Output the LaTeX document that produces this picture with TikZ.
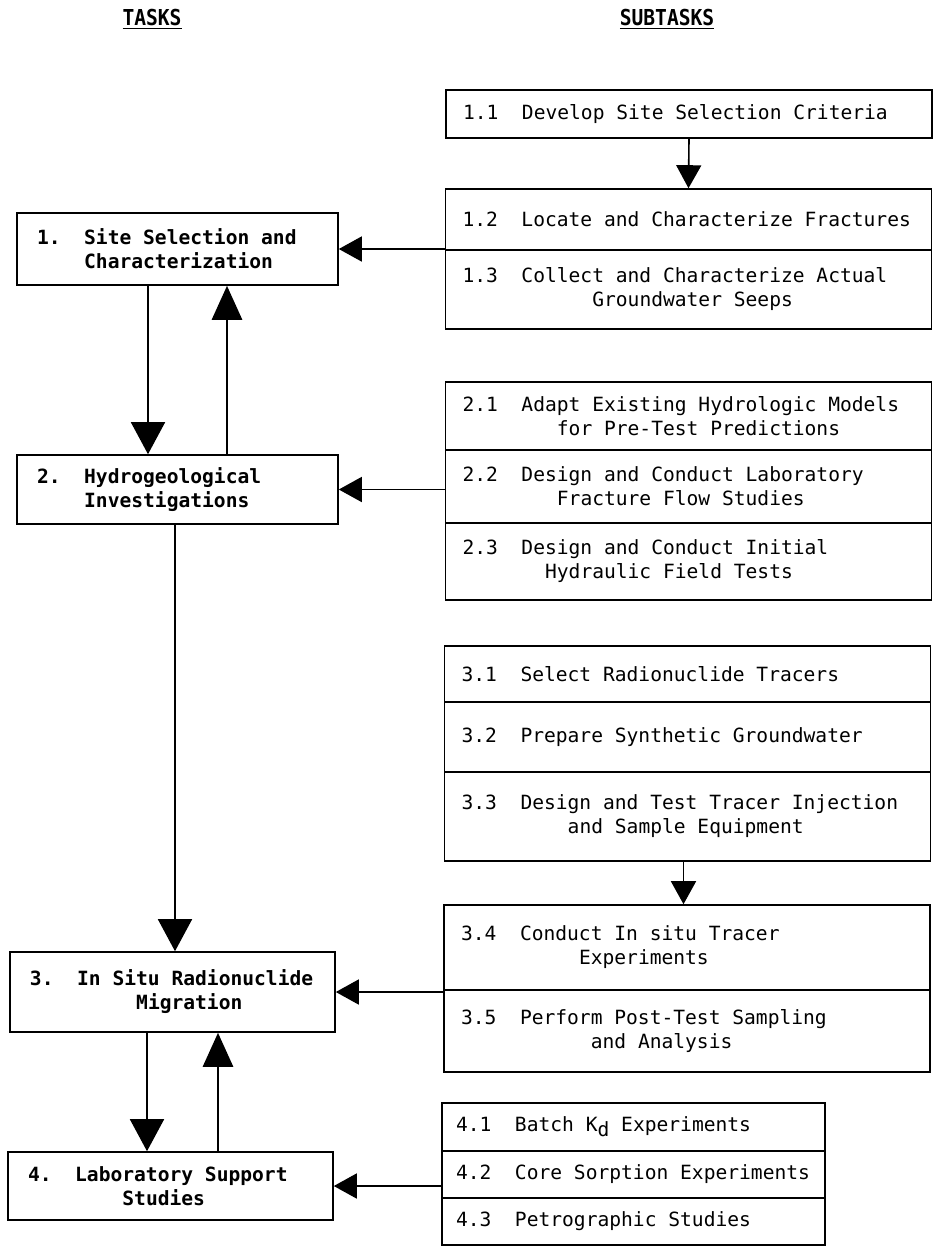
\documentclass[tikz,border=0pt]{standalone}
\usepackage{fontspec}
\setmainfont{DejaVu Sans Mono}
\usepackage{tikz}
\usetikzlibrary{arrows.meta}
\frenchspacing
% blank of n characters in the mono face
\newcommand{\pad}[1]{\hspace*{#1\fontcharwd\font`x\relax}}
\tikzset{
  head/.style={inner sep=0pt, font=\fontsize{19.6}{24}\selectfont\bfseries},
  task/.style={draw, line width=1.6pt, text width=281pt, inner xsep=20pt, inner ysep=0pt, align=flush left, font=\fontsize{19.6}{24}\selectfont\bfseries},
  sub/.style={draw, line width=1.6pt, text width=452pt, inner xsep=17pt, inner ysep=0pt, align=flush left, font=\fontsize{19.6}{24}\selectfont},
  subnarrow/.style={sub, text width=355pt, inner xsep=14pt},
  bigdown/.style={line width=1.6pt, -{Triangle[length=32pt,width=34pt]}},
  bigup/.style={line width=2.8pt, -{Triangle[length=34pt,width=30pt]}},
  into/.style={line width=1.6pt, -{Triangle[length=23pt,width=25pt]}},
}
\begin{document}
\begin{tikzpicture}[x=1pt,y=1pt,yscale=-1]
	\useasboundingbox (0,0) rectangle (937,1254);

	% Text Node
	\node [head] (tasks) at (152,19) {\scalebox{1}[1.12]{\underline{TASKS}}};
	% Text Node
	\node [head] (subtasks) at (667,19) {\scalebox{1}[1.12]{\underline{SUBTASKS}}};

	%Shape: Rectangle
	\node [task, minimum height=72pt] (t1) at (177.5,249) {1.~~Site Selection and\\\pad{4}Characterization};
	%Shape: Rectangle
	\node [task, minimum height=69pt] (t2) at (177.5,489.5) {2.~~Hydrogeological\\\pad{4}Investigations};
	%Shape: Rectangle
	\node [task, text width=285pt, minimum height=80pt] (t3) at (172.5,992) {3.~~In Situ Radionuclide\\\pad{9}Migration};
	%Shape: Rectangle
	\node [task, text width=285pt, minimum height=68pt] (t4) at (170.5,1186) {4.~~Laboratory Support\\\pad{8}Studies};

	%Shape: Rectangle
	\node [sub, minimum height=48pt] (s11) at (689,114) {1.1~~Develop Site Selection Criteria};
	\node [sub, minimum height=61pt] (s12) at (688.5,219.5) {1.2~~Locate and Characterize Fractures};
	\node [sub, minimum height=79pt] (s13) at (688.5,289.5) {1.3~~Collect and Characterize Actual\\\pad{11}Groundwater Seeps};
	%Shape: Rectangle
	\node [sub, minimum height=68pt] (s21) at (688.5,416) {2.1~~Adapt Existing Hydrologic Models\\\pad{8}for Pre-Test Predictions};
	\node [sub, minimum height=73pt] (s22) at (688.5,486.5) {2.2~~Design and Conduct Laboratory\\\pad{8}Fracture Flow Studies};
	\node [sub, minimum height=77pt] (s23) at (688.5,561.5) {2.3~~Design and Conduct Initial\\\pad{7}Hydraulic Field Tests};
	%Shape: Rectangle
	\node [sub, minimum height=56pt] (s31) at (687.5,674) {3.1~~Select Radionuclide Tracers};
	\node [sub, minimum height=70pt] (s32) at (687.5,737) {3.2~~Prepare Synthetic Groundwater};
	\node [sub, minimum height=89pt] (s33) at (687.5,816.5) {3.3~~Design and Test Tracer Injection\\\pad{9}and Sample Equipment};
	%Shape: Rectangle
	\node [sub, minimum height=85pt] (s34) at (687,947.5) {3.4~~Conduct In situ Tracer\\\pad{10}Experiments};
	\node [sub, minimum height=82pt] (s35) at (687,1031) {3.5~~Perform Post-Test Sampling\\\pad{11}and Analysis};
	%Shape: Rectangle
	\node [subnarrow, minimum height=48pt] (s41) at (633.5,1127) {4.1~~Batch K\raisebox{-0.45ex}{d} Experiments};
	\node [subnarrow, minimum height=47pt] (s42) at (633.5,1174.5) {4.2~~Core Sorption Experiments};
	\node [subnarrow, minimum height=47pt] (s43) at (633.5,1221.5) {4.3~~Petrographic Studies};

	%Straight Lines
	\draw [into] (s11.south) -- (s12.north);
	\draw [into] ([xshift=-4pt]s33.south) -- ([xshift=-4pt]s33.south |- s34.north);
	%Straight Lines
	\draw [into] (t1.east -| s12.west) -- (t1.east);
	\draw [into] (t2.east -| s22.west) -- (t2.east);
	\draw [into] (t3.east -| s34.west) -- (t3.east);
	\draw [into] (t4.east -| s42.west) -- (t4.east);
	%Straight Lines
	\draw [bigdown] ([xshift=-29.5pt]t1.south) -- ([xshift=-29.5pt]t1.south |- t2.north);
	\draw [bigup] ([xshift=49.5pt]t2.north) -- ([xshift=49.5pt]t2.north |- t1.south);
	\draw [bigdown] ([xshift=-2.5pt]t2.south) -- ([xshift=-2.5pt]t2.south |- t3.north);
	\draw [bigdown] ([xshift=-25.5pt]t3.south) -- ([xshift=-25.5pt]t3.south |- t4.north);
	\draw [bigup] ([xshift=47.5pt]t4.north) -- ([xshift=47.5pt]t4.north |- t3.south);
\end{tikzpicture}
\end{document}
